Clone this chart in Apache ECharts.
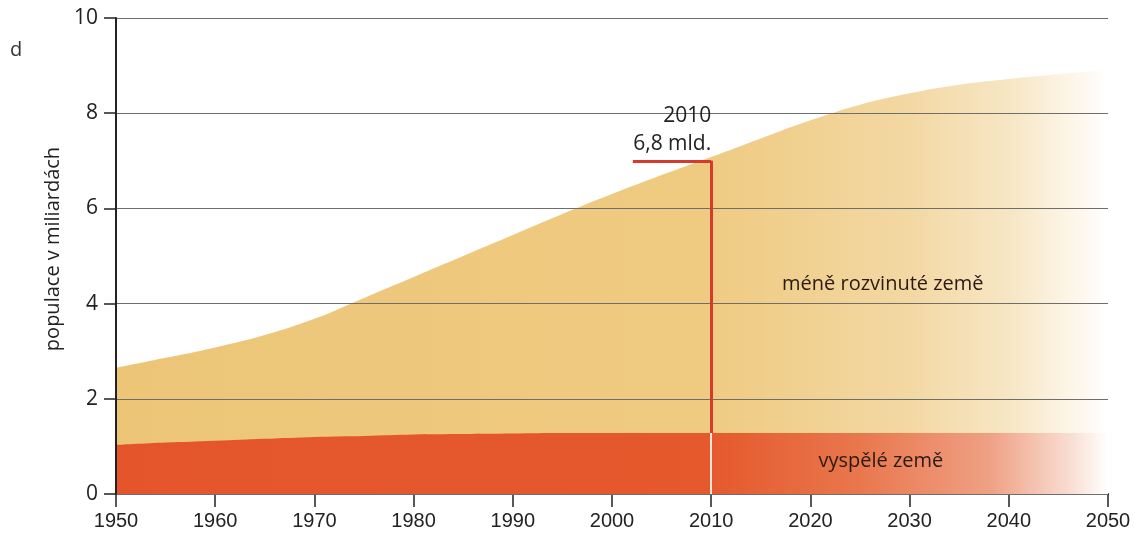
<!DOCTYPE html>
<html>
<head>
<meta charset="utf-8">
<script src="https://cdn.jsdelivr.net/npm/echarts@6/dist/echarts.min.js"></script>
<style>
html,body{margin:0;padding:0;background:#fff;}
#c{width:1135px;height:539px;}
</style>
</head>
<body>
<div id="c"></div>
<script>
// Data (billions of people)
var years = [1950,1955,1960,1965,1970,1975,1980,1985,1990,1995,2000,2005,2010,2015,2020,2025,2030,2035,2040,2045,2050];
// world total (top of the less-developed band)
var total = [2.65,2.86,3.08,3.34,3.68,4.12,4.56,5.00,5.44,5.88,6.30,6.70,7.08,7.47,7.85,8.18,8.42,8.60,8.72,8.82,8.90];
// developed countries (bottom band)
var developed = [1.03,1.08,1.12,1.16,1.20,1.22,1.25,1.26,1.27,1.28,1.28,1.28,1.28,1.28,1.28,1.28,1.28,1.28,1.28,1.28,1.28];
var xTicks = [1950,1960,1970,1980,1990,2000,2010,2020,2030,2040,2050];
var yTicks = [0,2,4,6,8,10];
var markerYear = 2010;
var markerValue = 7.0;
var markerStartYear = 2002.1;
var markerText = ['2010','6,8 mld.'];
var lessLabel = {text:'méně rozvinuté země', year:2027.3, value:4.4};
var devLabel = {text:'vyspělé země', year:2027.1, value:0.69};

var devData = years.map(function(y,i){ return [y, developed[i]]; });
var totalData = years.map(function(y,i){ return [y, total[i]]; });
var devAtMarker = developed[years.indexOf(markerYear)];

var chart = echarts.init(document.getElementById('c'), null, {renderer:'canvas'});
var G = echarts.graphic;
var redGrad = new G.LinearGradient(0,0,1,0,[
  {offset:0,color:'#e4552b'},
  {offset:0.6,color:'#e5592d'},
  {offset:0.75,color:'#e9774d'},
  {offset:0.88,color:'#efa084'},
  {offset:0.96,color:'#f8dcd0'},
  {offset:1,color:'#ffffff'}
]);
var tanGrad = new G.LinearGradient(0,0,1,0,[
  {offset:0,color:'#ecc577'},
  {offset:0.6,color:'#efcb82'},
  {offset:0.8,color:'#f3d8a3'},
  {offset:0.9,color:'#f7e6c4'},
  {offset:0.97,color:'#fdf7ec'},
  {offset:1,color:'#ffffff'}
]);
var hiddenSym = {symbol:'circle',symbolSize:1,itemStyle:{color:'rgba(0,0,0,0)'}};

var option = {
  animation:false,
  backgroundColor:'#ffffff',
  grid:{left:116,right:27,top:18,bottom:45,containLabel:false},
  xAxis:{
    type:'value',min:1950,max:2050,interval:10,
    axisLine:{show:true,onZero:false,lineStyle:{color:'#222',width:2}},
    axisTick:{show:true,length:13,lineStyle:{color:'#222',width:1.5}},
    axisLabel:{margin:17,fontSize:20,color:'#222',fontFamily:'Liberation Sans Narrow, Liberation Sans, sans-serif',
      formatter:function(v){return String(v);}},
    splitLine:{show:false}
  },
  yAxis:{
    type:'value',min:0,max:10,interval:2,z:5,
    name:'populace v miliardách',nameLocation:'middle',nameGap:37,nameRotate:90,
    nameTextStyle:{fontSize:20,color:'#222',fontFamily:'Open Sans, sans-serif',padding:[0,0,0,14]},
    axisLine:{show:true,lineStyle:{color:'#222',width:2}},
    axisTick:{show:true,length:12,lineStyle:{color:'#222',width:1.5}},
    axisLabel:{margin:18,fontSize:21,color:'#222',fontFamily:'Open Sans, sans-serif'},
    splitLine:{show:true,lineStyle:{color:'#6e6e6e',width:1}}
  },
  series:[
    {
      name:'méně rozvinuté země',type:'line',smooth:0.4,symbol:'none',
      lineStyle:{width:0},areaStyle:{color:tanGrad,opacity:1},
      data:totalData,z:2,
      markLine:{
        silent:true,symbol:['none','none'],
        lineStyle:{type:'solid',color:'#d63a2c',width:3},
        label:{show:false},
        data:[
          [{coord:[markerYear,devAtMarker]},{coord:[markerYear,markerValue]}],
          [{coord:[markerStartYear,markerValue],
            label:{show:true,position:'insideEndTop',formatter:markerText.join('\n'),fontSize:21,lineHeight:28,
              color:'#222',fontFamily:'Open Sans, sans-serif',distance:[0,3]}},
           {coord:[markerYear,markerValue]}]
        ]
      },
      markPoint:Object.assign({
        label:{show:true,position:'inside',formatter:lessLabel.text,fontSize:20,color:'#2a1a12',fontFamily:'Open Sans, sans-serif'},
        data:[{coord:[lessLabel.year,lessLabel.value]}]
      },hiddenSym)
    },
    {
      name:'vyspělé země',type:'line',smooth:0.4,symbol:'none',
      lineStyle:{width:0},areaStyle:{color:redGrad,opacity:1},
      data:devData,z:3,
      markLine:{
        silent:true,symbol:['none','none'],
        lineStyle:{type:'solid',color:'#f6e8dc',width:2},
        label:{show:false},
        data:[[{coord:[markerYear,0]},{coord:[markerYear,devAtMarker]}]]
      },
      markPoint:Object.assign({
        label:{show:true,position:'inside',formatter:devLabel.text,fontSize:20,color:'#2a1a12',fontFamily:'Open Sans, sans-serif'},
        data:[{coord:[devLabel.year,devLabel.value]}]
      },hiddenSym)
    }
  ],
  graphic:[
    {type:'text',left:10,top:40,style:{text:'d',fontSize:20,fill:'#333',fontFamily:'Open Sans, sans-serif'}}
  ]
};
chart.setOption(option);
</script>
</body>
</html>
